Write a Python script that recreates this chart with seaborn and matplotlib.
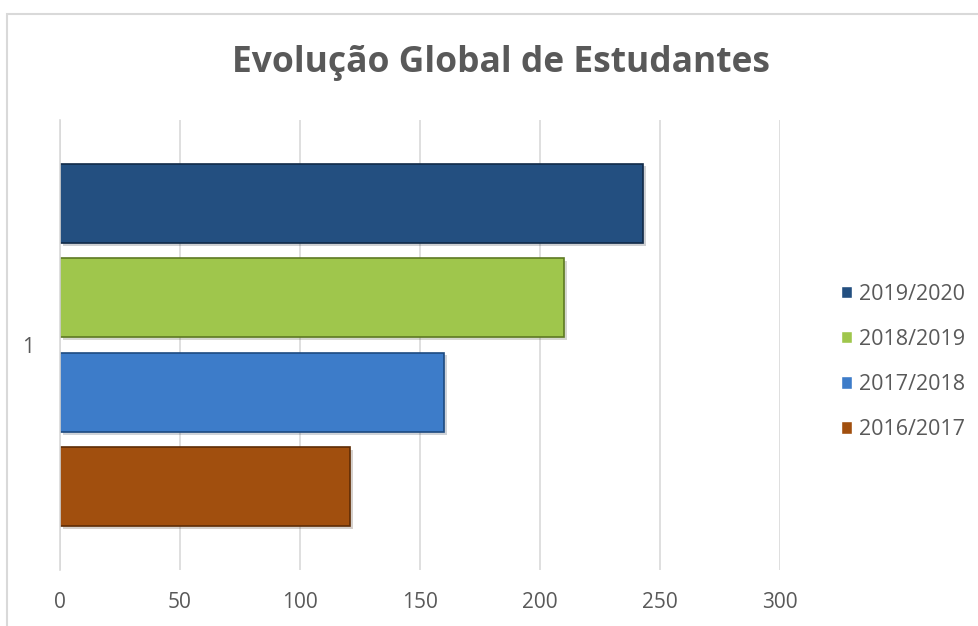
import matplotlib
matplotlib.use("Agg")
import matplotlib.pyplot as plt
import matplotlib.patheffects as pe
from matplotlib.patches import Rectangle
import seaborn as sns
import pandas as pd

# data
anos    = ['2019/2020', '2018/2019', '2017/2018', '2016/2017']
valores = [243, 210, 160, 121]
grupo   = ['1', '1', '1', '1']
cores   = ['#234f80', '#9fc64c', '#3d7cc9', '#a14f0e']
bordas  = ['#102a48', '#5e7a22', '#1d4a80', '#5e2c05']
xticks  = [0, 50, 100, 150, 200, 250, 300]

df = pd.DataFrame({'ano': anos, 'estudantes': valores, 'grupo': grupo})

sns.set_style('white')
plt.rcParams['font.family'] = ['Open Sans', 'DejaVu Sans']
txt = '#595959'

fig = plt.figure(figsize=(9.79, 6.26), dpi=100)
ax = fig.add_axes([60/979, 1-570/626, 720/979, 450/626])

sns.barplot(ax=ax, data=df, x='estudantes', y='grupo', hue='ano', hue_order=anos,
            palette=cores, orient='h', width=0.84, gap=0.16, saturation=1)

for bar, ec in zip(ax.patches, bordas):
    bar.set_edgecolor(ec)
    bar.set_linewidth(1.2)
    bar.set_path_effects([pe.SimplePatchShadow(offset=(2, -2), alpha=0.2), pe.Normal()])

ax.set_xlim(0, 300)
ax.set_ylim(0.5, -0.5)
ax.set_xticks(xticks)
ax.xaxis.grid(True, color='#d9d9d9', lw=1.2)
ax.set_axisbelow(True)
for s in ['top', 'right', 'bottom']:
    ax.spines[s].set_visible(False)
ax.spines['left'].set_color('#d9d9d9')
ax.spines['left'].set_linewidth(1.2)
ax.set_yticks([-0.5, 0.5], minor=True)
ax.tick_params(axis='y', which='minor', length=6, color='#d9d9d9', width=1.2)
ax.tick_params(axis='y', which='major', length=0, pad=19, labelsize=15, labelcolor=txt)
ax.tick_params(axis='x', length=0, pad=16, labelsize=15, labelcolor=txt)
ax.set_xlabel('')
ax.set_ylabel('')

fig.text(501/979, 1-63/626, 'Evolução Global de Estudantes', ha='center', va='center',
         fontsize=25.5, fontweight='bold', color=txt)

handles, labels = ax.get_legend_handles_labels()
ax.legend(handles, labels, loc='center left', bbox_to_anchor=(822/979, 1-362/626),
          bbox_transform=fig.transFigure, frameon=False, fontsize=15.5, labelcolor=txt,
          handlelength=0.5, handleheight=0.5, handletextpad=0.3, labelspacing=1.12)

# outer chart frame
fig.patches.append(Rectangle((7/979, -0.1), 1.2, 1-14/626+0.1, transform=fig.transFigure,
                             fill=False, edgecolor='#d9d9d9', lw=1.5, clip_on=False))

fig.savefig('out.png', dpi=100, facecolor='white')
